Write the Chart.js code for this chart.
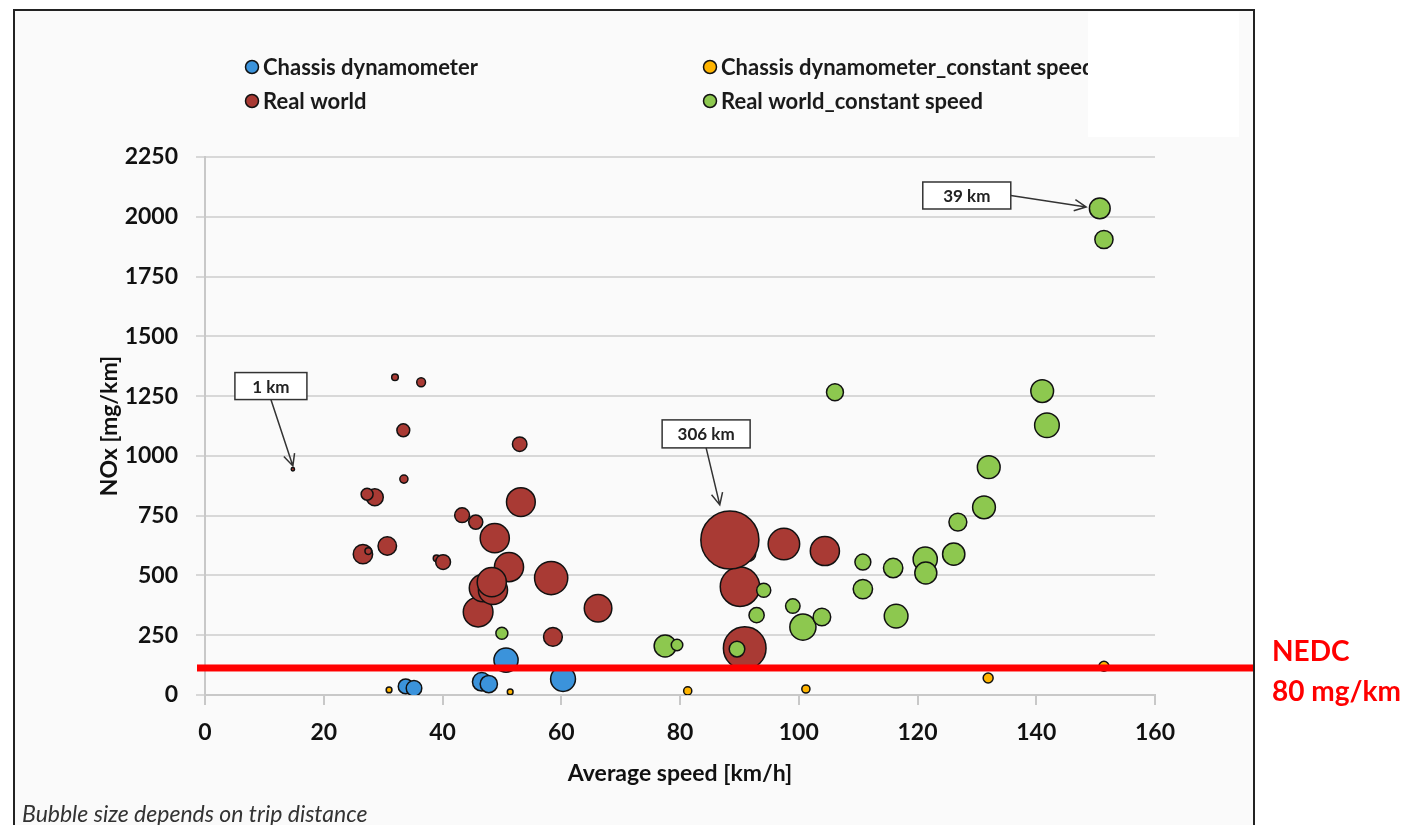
<!DOCTYPE html>
<html>
<head>
<meta charset="utf-8">
<title>NOx vs average speed</title>
<script src="https://cdn.jsdelivr.net/npm/chart.js@4.4.0/dist/chart.umd.min.js"></script>
<style>
    html, body { margin: 0; padding: 0; background: #fff; }
    #wrap { position: relative; width: 1420px; height: 825px; }
</style>
</head>
<body>
<div id="wrap"><canvas id="myChart" width="1420" height="825"></canvas></div>
<script>
// Data (speed km/h, NOx mg/km, trip distance km)

const chassisSpeed = [33.8, 35.2, 50.7, 46.6, 47.8, 60.3];
const chassisNox = [36, 28, 146, 55, 46, 67];
const chassisKm = [20, 22, 53, 31, 27, 56];

const chassisConstSpeed = [31.0, 51.4, 81.3, 101.2, 131.9, 151.4];
const chassisConstNox = [21, 13, 17, 25, 71, 120];
const chassisConstKm = [3, 3, 6, 6, 9, 9];

const realSpeed = [14.8, 32.0, 36.4, 33.4, 33.5, 28.6, 27.3, 26.6, 27.5, 30.7, 39.0, 40.1, 53.0, 53.2, 43.3, 45.6, 48.8, 51.2, 46.0, 46.8, 48.5, 48.3, 58.3, 66.2, 58.6, 91.5, 90.1, 88.4, 90.9, 97.5, 104.4];
const realNox = [944, 1329, 1308, 1107, 903, 827, 840, 589, 602, 623, 572, 556, 1049, 807, 752, 723, 656, 535, 347, 447, 439, 472, 489, 363, 243, 590, 453, 648, 196, 631, 602];
const realKm = [1, 4, 7, 15, 6, 26, 13, 34, 4, 31, 4, 20, 19, 75, 20, 18, 77, 77, 80, 67, 77, 77, 100, 69, 32, 20, 141, 306, 165, 90, 77];

const realConstSpeed = [50.0, 77.5, 79.5, 89.6, 94.1, 92.9, 99.0, 100.7, 103.9, 110.8, 110.8, 106.1, 115.9, 116.4, 121.3, 121.4, 126.1, 126.8, 131.2, 132.0, 141.0, 141.8, 150.7, 151.4];
const realConstNox = [258, 205, 209, 192, 438, 334, 372, 284, 326, 556, 443, 1266, 531, 330, 568, 510, 589, 723, 785, 953, 1271, 1128, 2035, 1905];
const realConstKm = [13, 44, 12, 22, 18, 21, 19, 62, 28, 23, 34, 26, 34, 51, 53, 44, 45, 29, 47, 47, 47, 55, 39, 30];

const xTicks = [0, 20, 40, 60, 80, 100, 120, 140, 160];
const yTicks = [0, 250, 500, 750, 1000, 1250, 1500, 1750, 2000, 2250];

const nedcLevel = 113;

// Bubble radius from trip distance (area ~ distance)
function bubbles(xs, ys, km) {
    var pts = [];
    for (let i = 0; i < xs.length; i++) {
        pts.push({ x: xs[i], y: ys[i], r: 1.66 * Math.sqrt(km[i]) });
    }
    return pts;
}

// Annotation boxes (data coords)
const notes = [
    { text: '1 km', box: [11.1, 1292], w: 72, h: 27, from: 'bottom', tip: [14.8, 958] },
    { text: '306 km', box: [84.4, 1092], w: 88, h: 28, from: 'bottom', tip: [86.7, 795] },
    { text: '39 km', box: [128.3, 2089], w: 88, h: 27, from: 'right', tip: [148.4, 2041] }
];

function arrow(ctx, x1, y1, x2, y2) {
    var a = Math.atan2(y2 - y1, x2 - x1);
    ctx.beginPath();
    ctx.moveTo(x1, y1);
    ctx.lineTo(x2, y2);
    ctx.moveTo(x2 - 13 * Math.cos(a - 0.45), y2 - 13 * Math.sin(a - 0.45));
    ctx.lineTo(x2, y2);
    ctx.lineTo(x2 - 13 * Math.cos(a + 0.45), y2 - 13 * Math.sin(a + 0.45));
    ctx.stroke();
}

// Plugins

const backdrop = {
    id: 'backdrop',
    beforeDraw: function (chart) {
        var ctx = chart.ctx;
        ctx.save();
        ctx.fillStyle = '#ffffff';
        ctx.fillRect(0, 0, chart.width, chart.height);
        ctx.fillStyle = '#fafafa';
        ctx.fillRect(14, 10, 1240, 830);
        ctx.restore();
    }
};

const nedcLine = {
    id: 'nedcLine',
    afterDatasetsDraw: function (chart) {
        var ctx = chart.ctx;
        var y = chart.scales.y.getPixelForValue(nedcLevel);
        ctx.save();
        ctx.fillStyle = '#ff0000';
        ctx.fillRect(197, y - 3.5, 1057, 7);
        ctx.restore();
    }
};

const extras = {
    id: 'extras',
    afterDraw: function (chart) {
        var ctx = chart.ctx;
        var sx = chart.scales.x, sy = chart.scales.y;
        ctx.save();

        // legend, 2 columns
        var cols = [252, 710], rows = [67, 101];
        ctx.font = 'bold 22px Lato';
        ctx.textBaseline = 'middle';
        ctx.textAlign = 'left';
        chart.data.datasets.forEach(function (ds, i) {
            var cx = cols[i % 2], cy = rows[Math.floor(i / 2)];
            ctx.beginPath();
            ctx.arc(cx, cy, 6.5, 0, Math.PI * 2);
            ctx.fillStyle = ds.backgroundColor;
            ctx.fill();
            ctx.lineWidth = 1.5;
            ctx.strokeStyle = '#111';
            ctx.stroke();
            ctx.fillStyle = '#1a1a1a';
            ctx.fillText(ds.label, cx + 11, cy + 1);
        });

        // white patch top right
        ctx.fillStyle = '#ffffff';
        ctx.fillRect(1088, 12, 151, 125);

        // frame
        ctx.strokeStyle = '#222';
        ctx.lineWidth = 2;
        ctx.strokeRect(14, 10, 1240, 840);

        // annotations
        ctx.font = 'bold 17px Lato';
        ctx.textAlign = 'center';
        notes.forEach(function (n) {
            var bx = sx.getPixelForValue(n.box[0]), by = sy.getPixelForValue(n.box[1]);
            ctx.fillStyle = '#ffffff';
            ctx.fillRect(bx - n.w / 2, by - n.h / 2, n.w, n.h);
            ctx.strokeStyle = '#333';
            ctx.lineWidth = 1.5;
            ctx.strokeRect(bx - n.w / 2, by - n.h / 2, n.w, n.h);
            ctx.fillStyle = '#222';
            ctx.fillText(n.text, bx, by + 1);
            var x1 = bx, y1 = by + n.h / 2;
            if (n.from === 'right') { x1 = bx + n.w / 2; y1 = by; }
            arrow(ctx, x1, y1, sx.getPixelForValue(n.tip[0]), sy.getPixelForValue(n.tip[1]));
        });

        // NEDC label
        ctx.fillStyle = '#ff0000';
        ctx.font = 'bold 28px Lato';
        ctx.textAlign = 'left';
        ctx.textBaseline = 'alphabetic';
        ctx.fillText('NEDC', 1272, 661);
        ctx.fillText('80 mg/km', 1272, 701);

        // footnote
        ctx.fillStyle = '#333';
        ctx.font = 'italic 23px Lato';
        ctx.fillText('Bubble size depends on trip distance', 22, 822);

        ctx.restore();
    }
};

// Chart

Chart.defaults.font.family = 'Lato';
Chart.defaults.color = '#111';

var ctx = document.getElementById('myChart').getContext('2d');
var chart = new Chart(ctx, {
    type: 'bubble',
    data: {
        datasets: [{
                label: 'Chassis dynamometer',
                backgroundColor: '#3b93db',
                data: bubbles(chassisSpeed, chassisNox, chassisKm),
                order: 2,
            },
            {
                label: 'Chassis dynamometer_constant speed',
                backgroundColor: '#ffb400',
                data: bubbles(chassisConstSpeed, chassisConstNox, chassisConstKm),
                order: 1,
            },
            {
                label: 'Real world',
                backgroundColor: '#a93a34',
                data: bubbles(realSpeed, realNox, realKm),
                order: 3,
            },
            {
                label: 'Real world_constant speed',
                backgroundColor: '#8dc84f',
                data: bubbles(realConstSpeed, realConstNox, realConstKm),
                order: 0,
            }
        ]
    },
    options: {
        responsive: false,
        animation: false,
        devicePixelRatio: 1,
        layout: { padding: { left: 92, right: 265, top: 157, bottom: 34 } },
        elements: { point: { borderColor: '#111', borderWidth: 1.5, hoverRadius: 0 } },
        plugins: {
            legend: { display: false },
            tooltip: { enabled: false }
        },
        scales: {
            x: {
                type: 'linear',
                min: xTicks[0],
                max: xTicks[xTicks.length - 1],
                afterBuildTicks: function (scale) { scale.ticks = xTicks.map(function (v) { return { value: v }; }); },
                afterFit: function (scale) { scale.height = 96; },
                ticks: { font: { size: 23, weight: 'bold' }, padding: 14, callback: function (v) { return String(v); } },
                grid: { drawOnChartArea: false, tickLength: 10, color: '#c8c8c8', lineWidth: 2 },
                border: { color: '#c8c8c8', width: 2 },
                title: { display: true, text: 'Average speed [km/h]', font: { size: 23, weight: 'bold' }, padding: 4 }
            },
            y: {
                type: 'linear',
                min: yTicks[0],
                max: yTicks[yTicks.length - 1],
                afterBuildTicks: function (scale) { scale.ticks = yTicks.map(function (v) { return { value: v }; }); },
                afterFit: function (scale) { scale.width = 113; },
                ticks: { font: { size: 23, weight: 'bold' }, padding: 18, callback: function (v) { return String(v); } },
                grid: { tickLength: 9, color: '#d8d8d8', lineWidth: 2 },
                border: { color: '#c8c8c8', width: 2 },
                title: { display: true, text: 'NOx [mg/km]', font: { size: 23, weight: 'bold' }, padding: 4 }
            }
        }
    },
    plugins: [backdrop, nedcLine, extras]
});
</script>
</body>
</html>
